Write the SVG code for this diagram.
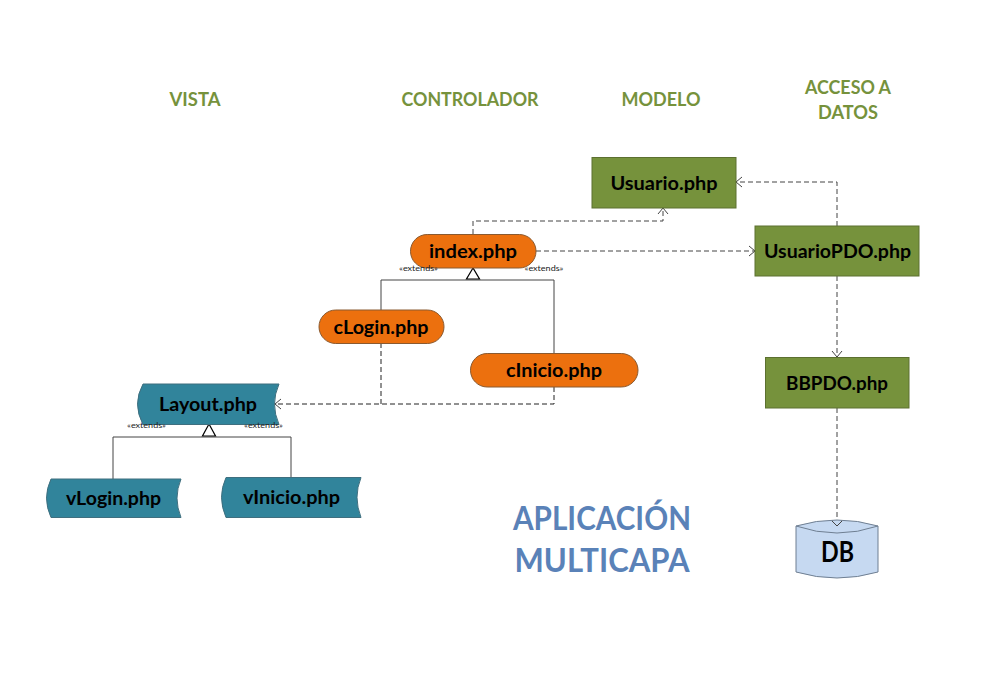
<svg xmlns="http://www.w3.org/2000/svg" width="990" height="700" viewBox="0 0 990 700">
<style>
text{font-family:"Lato","Carlito","Liberation Sans",sans-serif;font-weight:700;text-anchor:middle}
.h{fill:#76923c;font-size:18.5px}
.t{fill:#5a82b8;font-size:32px}
.n{fill:#000;font-size:19.5px}
.x{fill:#222;font-size:7.5px;font-weight:400}
.g{fill:#76923c;stroke:#5c7030;stroke-width:1}
.o{fill:#ec700e;stroke:#8a5a30;stroke-width:1}
.v{fill:#31849b;stroke:#3f6f7f;stroke-width:1}
.c{fill:none;stroke:#444;stroke-width:1}
.k{stroke:#222}
.d{stroke-dasharray:5 3;marker-end:url(#open)}
.e{stroke-dasharray:5 3}
.tri{fill:#fff;stroke:#000;stroke-width:1.2}
</style>
<defs>
<marker id="open" viewBox="0 0 12 12" refX="11" refY="6" markerWidth="12" markerHeight="12" markerUnits="userSpaceOnUse" orient="auto">
<path d="M5 1 L11 6 L5 11" fill="none" stroke="#444" stroke-width="1"/>
</marker>
</defs>
<rect width="990" height="700" fill="#fff"/>
<g id="headings">
<text class="h" x="195" y="105.500" textLength="51" lengthAdjust="spacingAndGlyphs">VISTA</text>
<text class="h" x="470" y="105.500" textLength="137" lengthAdjust="spacingAndGlyphs">CONTROLADOR</text>
<text class="h" x="661" y="105.500" textLength="79" lengthAdjust="spacingAndGlyphs">MODELO</text>
<text class="h" x="848" y="93.500" textLength="86" lengthAdjust="spacingAndGlyphs">ACCESO A</text>
<text class="h" x="848" y="118.500" textLength="60" lengthAdjust="spacingAndGlyphs">DATOS</text>
</g>
<g id="title">
<text class="t" x="602" y="530" textLength="178" lengthAdjust="spacingAndGlyphs">APLICACIÓN</text>
<text class="t" x="602" y="572" textLength="175" lengthAdjust="spacingAndGlyphs">MULTICAPA</text>
</g>
<g id="connectors">
<path class="c" d="M381 310V280H554V353"/>
<path class="c" d="M113 479V437H291V477"/>
<path class="c k e" d="M381 343V404"/>
<path class="c k d" d="M554 387V404H275"/>
<path class="c d" d="M473 234V221H663V208"/>
<path class="c d" d="M536 251H755"/>
<path class="c d" d="M837 226V182H736"/>
<path class="c d" d="M837 276V357"/>
<path class="c d" d="M837 408V526"/>
<polygon class="tri" points="473,268 466.500,279 479.500,279"/>
<polygon class="tri" points="209,424 202.500,436 215.500,436"/>
</g>
<g id="usuario"><rect class="g" x="592" y="157.500" width="144" height="50.500"/><text class="n" x="664" y="190" textLength="107" lengthAdjust="spacingAndGlyphs">Usuario.php</text></g>
<g id="usuariopdo"><rect class="g" x="755" y="226" width="164" height="50"/><text class="n" x="837.500" y="258" textLength="147" lengthAdjust="spacingAndGlyphs">UsuarioPDO.php</text></g>
<g id="bbpdo"><rect class="g" x="765.500" y="357.500" width="143.500" height="50.500"/><text class="n" x="837" y="390" textLength="102" lengthAdjust="spacingAndGlyphs">BBPDO.php</text></g>
<g id="index"><rect class="o" x="410.500" y="234.500" width="125.500" height="33.500" rx="16.700"/><text class="n" x="473" y="258" textLength="88" lengthAdjust="spacingAndGlyphs">index.php</text></g>
<g id="clogin"><rect class="o" x="319" y="310" width="125" height="33.500" rx="16.700"/><text class="n" x="381" y="334" textLength="95" lengthAdjust="spacingAndGlyphs">cLogin.php</text></g>
<g id="cinicio"><rect class="o" x="470.500" y="353.500" width="167.500" height="33.500" rx="16.700"/><text class="n" x="554" y="377" textLength="96" lengthAdjust="spacingAndGlyphs">cInicio.php</text></g>
<g id="layout"><path class="v" d="M143 384H279Q270 404 279 424.500H143Q132 404 143 384Z"/><text class="n" x="208" y="411" textLength="98" lengthAdjust="spacingAndGlyphs">Layout.php</text></g>
<g id="vlogin"><path class="v" d="M51 479H181Q173 498 181 517.500H51Q42 498 51 479Z"/><text class="n" x="113.500" y="505" textLength="95" lengthAdjust="spacingAndGlyphs">vLogin.php</text></g>
<g id="vinicio"><path class="v" d="M226 477.500H361Q353 497 361 517.500H226Q217 497 226 477.500Z"/><text class="n" x="291.500" y="504" textLength="97" lengthAdjust="spacingAndGlyphs">vInicio.php</text></g>
<g id="db"><path d="M796 526Q837 514 878 526V572Q837 584 796 572Z" fill="#c6d9f1" stroke="#6f7f92" stroke-width="1"/><path d="M796 526Q837 540 878 526" fill="none" stroke="#6f7f92" stroke-width="1"/><path d="M832 521L837 526L842 521" fill="none" stroke="#444" stroke-width="1"/><text x="837.500" y="562" font-size="28" fill="#000" textLength="33" lengthAdjust="spacingAndGlyphs">DB</text></g>
<g id="labels">
<text class="x" x="418.500" y="271" textLength="39" lengthAdjust="spacingAndGlyphs">«extends»</text>
<text class="x" x="544" y="271" textLength="39" lengthAdjust="spacingAndGlyphs">«extends»</text>
<text class="x" x="146.500" y="428" textLength="39" lengthAdjust="spacingAndGlyphs">«extends»</text>
<text class="x" x="263.500" y="428" textLength="39" lengthAdjust="spacingAndGlyphs">«extends»</text>
</g>
</svg>
